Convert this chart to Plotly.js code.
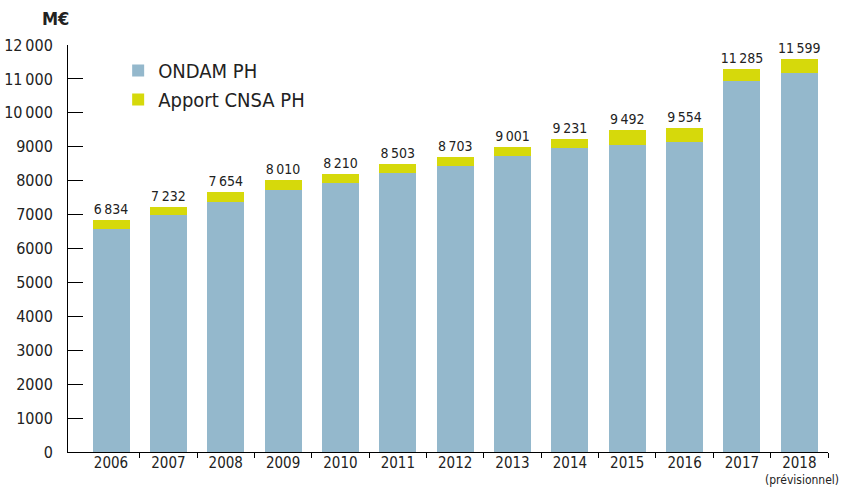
<!DOCTYPE html>
<html>
<head>
<meta charset="utf-8">
<script src="https://cdn.plot.ly/plotly-3.0.1.min.js"></script>
<style>html,body{margin:0;padding:0;background:#fff;}#chart{width:841px;height:488px;}</style>
</head>
<body>
<div id="chart"></div>
<script>
const years = ['2006','2007','2008','2009','2010','2011','2012','2013','2014','2015','2016','2017','2018'];
const lastYearNote = '(prévisionnel)';
const totals = [6834, 7232, 7654, 8010, 8210, 8503, 8703, 9001, 9231, 9492, 9554, 11285, 11599];
const ondam = [6580, 6976, 7360, 7715, 7945, 8238, 8438, 8736, 8966, 9050, 9141, 10931, 11186];
const apport = totals.map((t, i) => t - ondam[i]);
const yTickVals = [0,1000,2000,3000,4000,5000,6000,7000,8000,9000,10000,11000,12000];

function fmt(v) {
  const s = String(v);
  return s.length > 3 ? s.slice(0, s.length - 3) + '\u2009' + s.slice(-3) : s;
}
function fmtTick(v) {
  const s = String(v);
  return s.length > 4 ? s.slice(0, s.length - 3) + '\u2009' + s.slice(-3) : s;
}

const FONT = '"Liberation Sans Narrow", "DejaVu Sans Condensed", "Roboto", sans-serif';
const BLUE = '#94b8cc';
const YELLOW = '#d6d90b';
const XR = [-0.75, 12.5];

const traces = [
  {type: 'bar', name: 'ONDAM PH', x: years, y: ondam, marker: {color: BLUE}, width: 0.645, hoverinfo: 'none'},
  {type: 'bar', name: 'Apport CNSA PH', x: years, y: apport, marker: {color: YELLOW}, width: 0.645,
   text: totals.map(fmt), textposition: 'outside', cliponaxis: false, constraintext: 'none',
   textfont: {family: FONT, size: 14, color: '#222'}, hoverinfo: 'none'}
];

const lastIdx = years.length - 1;
const noteX = (lastIdx - XR[0]) / (XR[1] - XR[0]);

const layout = {
  width: 841, height: 488,
  margin: {l: 68, r: 13, t: 45, b: 36},
  barmode: 'stack',
  paper_bgcolor: '#fff', plot_bgcolor: '#fff',
  font: {family: FONT, color: '#222'},
  showlegend: true,
  legend: {x: 0.066, y: 0.985, xanchor: 'left', yanchor: 'top', traceorder: 'normal',
           font: {family: FONT, size: 20, color: '#222'}, bgcolor: 'rgba(0,0,0,0)', tracegroupgap: 0},
  xaxis: {type: 'category', categoryorder: 'array', categoryarray: years, range: XR,
          tickvals: years, ticktext: years, tickangle: 0, ticks: '', showline: false, showgrid: false, zeroline: false,
          tickfont: {family: FONT, size: 15, color: '#222'}, fixedrange: true, automargin: false},
  xaxis2: {overlaying: 'x', side: 'bottom', range: XR, tickvals: [0.5,1.5,2.5,3.5,4.5,5.5,6.5,7.5,8.5,9.5,10.5,11.5,12.5],
           showticklabels: false, ticks: 'outside', ticklen: 5, tickcolor: '#000', tickwidth: 1,
           showline: true, linecolor: '#000', linewidth: 1, showgrid: false, zeroline: false, anchor: 'y'},
  yaxis: {range: [0, 12000], tickvals: yTickVals, ticktext: yTickVals.map(fmtTick), ticks: 'inside', ticklen: 15,
          tickcolor: '#000', tickwidth: 1, showline: true, linecolor: '#000', linewidth: 1, showgrid: false, zeroline: false,
          ticklabelstandoff: 11, tickfont: {family: FONT, size: 16, color: '#222'}},
  annotations: [
    {text: '<b>M€</b>', xref: 'paper', yref: 'paper', x: -0.017, y: 1.066, xanchor: 'center', yanchor: 'middle',
     showarrow: false, font: {family: FONT, size: 18, color: '#222'}},
    {text: lastYearNote, xref: 'paper', yref: 'paper', x: noteX, y: -0.0885, xanchor: 'center', yanchor: 'bottom',
     xshift: 3, borderpad: 0, showarrow: false, font: {family: FONT, size: 12, color: '#222'}}
  ]
};

traces.push({type: 'scatter', x: [0], y: [0], xaxis: 'x2', yaxis: 'y', mode: 'markers', marker: {opacity: 0}, showlegend: false, hoverinfo: 'none'});

Plotly.newPlot('chart', traces, layout, {displayModeBar: false, staticPlot: true});
</script>
</body>
</html>
